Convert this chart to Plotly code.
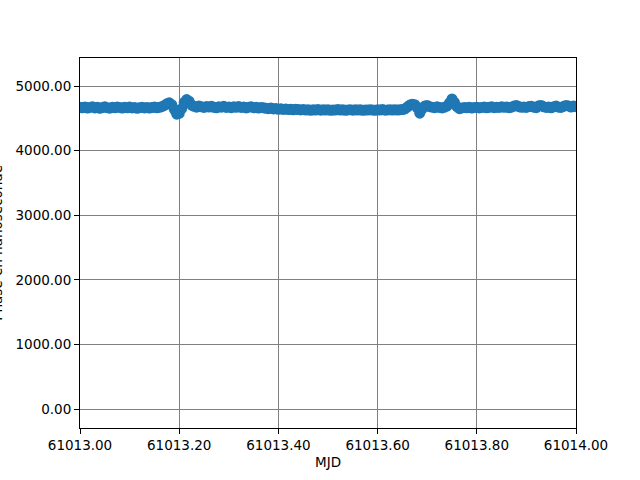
import numpy as np
import plotly.graph_objects as go

# Phase (ns) sampled every 0.005 day from MJD 61013.000 to 61014.000
phase_ns = [
    4670, 4662, 4675, 4658, 4668, 4680, 4660, 4672, 4655, 4666,
    4678, 4664, 4657, 4670, 4662, 4676, 4668, 4659, 4671, 4663,
    4674, 4660, 4668, 4655, 4665, 4672, 4660, 4669, 4658, 4667,
    4675, 4662, 4670, 4680,
    4700, 4725, 4740, 4710, 4640, 4565, 4575, 4650, 4745, 4790, 4765, 4705,
    4685, 4672, 4690, 4678, 4668, 4682, 4675, 4688, 4670, 4663, 4680, 4672, 4685, 4668, 4676,
    4665, 4678, 4670, 4682, 4668, 4675, 4660, 4672, 4678, 4665, 4670, 4658, 4668, 4662,
    4655, 4650, 4660, 4645, 4652, 4640, 4648, 4638, 4645, 4635, 4642, 4632, 4640, 4636,
    4630, 4635, 4627, 4633, 4625, 4632, 4628, 4636, 4626, 4631,
    4629, 4634, 4624, 4630, 4627, 4635, 4628, 4632, 4625, 4630,
    4633, 4626, 4631, 4628, 4634, 4625, 4630, 4627, 4633, 4629,
    4624, 4631, 4628, 4635, 4626, 4630, 4632, 4627, 4634, 4629,
    4631, 4636,
    4645, 4675, 4705, 4718, 4710, 4660, 4580, 4645,
    4690, 4700, 4680, 4672, 4665, 4678, 4668, 4660, 4672, 4690,
    4740, 4800, 4745, 4680,
    4650, 4660, 4668, 4662, 4670, 4658, 4666, 4672, 4660, 4668,
    4675, 4663, 4670, 4678, 4665, 4672, 4668, 4680, 4670, 4676,
    4665, 4672, 4690, 4700, 4680, 4670, 4676, 4668, 4682, 4688,
    4672, 4665, 4695, 4700, 4678, 4668, 4675, 4662, 4680, 4690,
    4672, 4668, 4685, 4700, 4692, 4675, 4690, 4680,
]
mjd = np.linspace(61013.0, 61014.0, len(phase_ns))

x_ticks = [61013.0, 61013.2, 61013.4, 61013.6, 61013.8, 61014.0]
y_ticks = [0, 1000, 2000, 3000, 4000, 5000]

font = dict(family="DejaVu Sans", size=13.5, color="black")

fig = go.Figure()
fig.add_trace(
    go.Scatter(
        x=mjd,
        y=phase_ns,
        mode="lines+markers",
        line=dict(color="#1f77b4", width=1.5),
        marker=dict(color="#1f77b4", size=11, line=dict(width=0)),
        showlegend=False,
    )
)

axis_common = dict(
    showline=True,
    linecolor="black",
    linewidth=1,
    mirror=True,
    ticks="outside",
    ticklen=5,
    tickcolor="black",
    showgrid=True,
    gridcolor="#808080",
    gridwidth=1,
    zeroline=False,
    tickfont=font,
    tickformat=".2f",
    automargin=False,
)

fig.update_layout(
    width=640,
    height=480,
    margin=dict(l=80, r=64, t=58, b=52),
    paper_bgcolor="white",
    plot_bgcolor="white",
    font=font,
    xaxis=dict(axis_common, range=[61013.0, 61014.0], tickvals=x_ticks),
    yaxis=dict(axis_common, range=[-289, 5433], tickvals=y_ticks),
)

fig.add_annotation(
    text="MJD", xref="paper", yref="paper", x=0.5, y=-0.092,
    xanchor="center", yanchor="middle", showarrow=False, font=font,
)
# y label sits partly outside the figure, as in the original
fig.add_annotation(
    text="Phase en nanoseconde", xref="paper", yref="paper", x=-0.168, y=0.5,
    xanchor="center", yanchor="middle", textangle=-90, showarrow=False, font=font,
)

# drop the default 8px body margin so the figure fills the window
fig.write_html(
    "out.html",
    config={"displayModeBar": False},
    post_script="document.body.style.margin='0';",
)
